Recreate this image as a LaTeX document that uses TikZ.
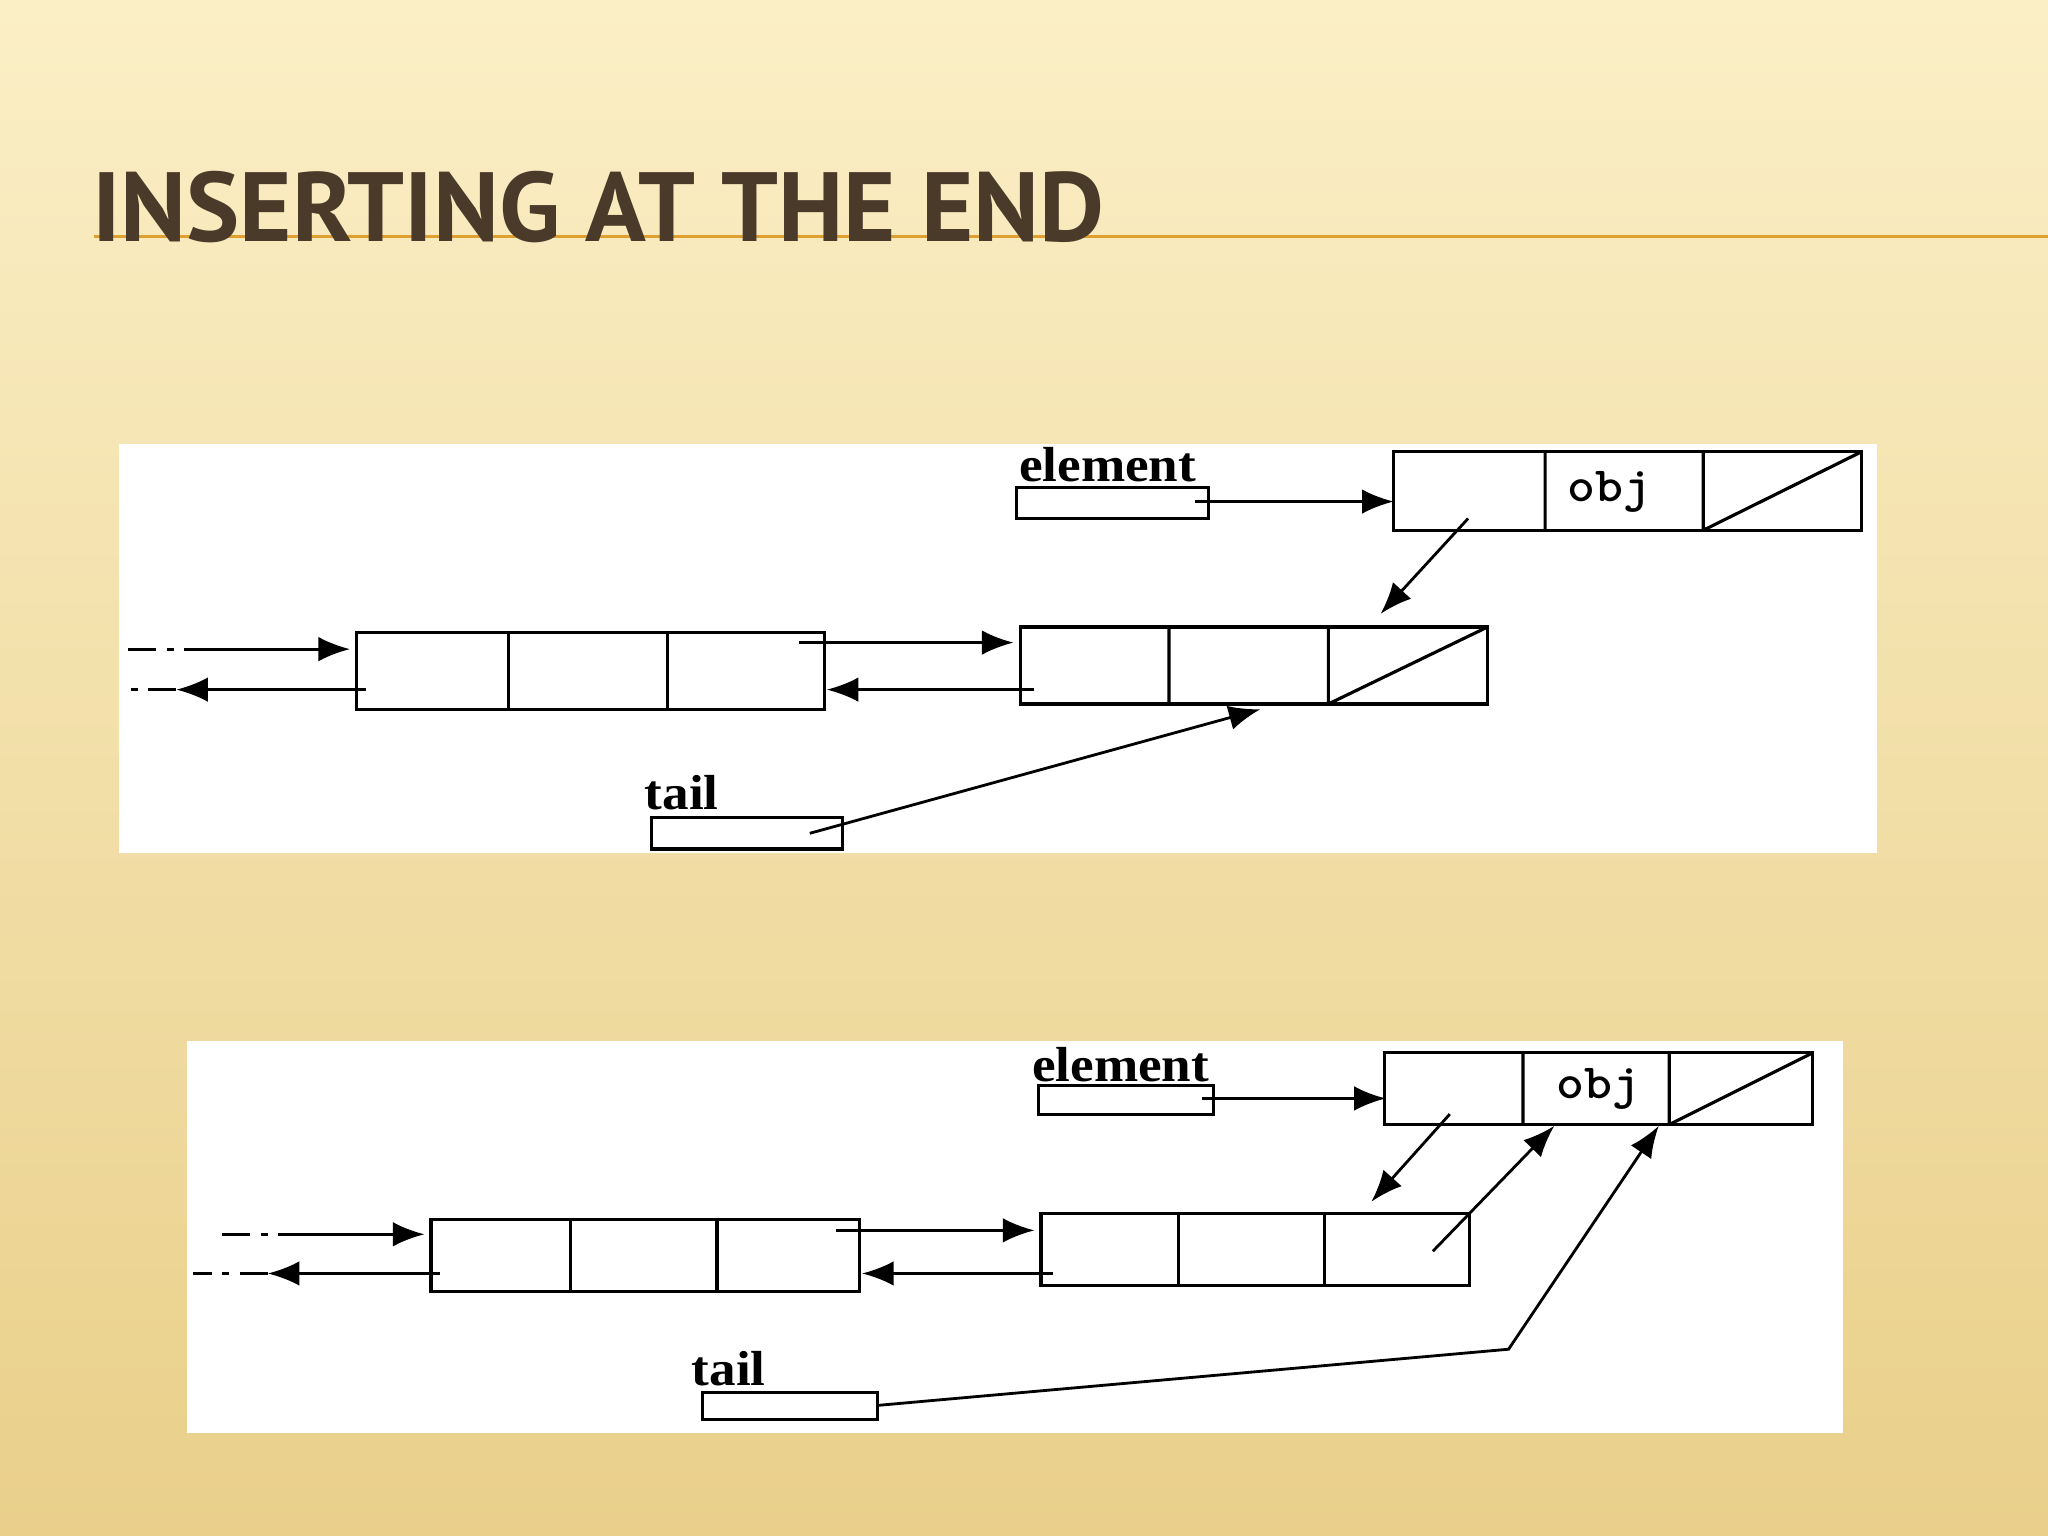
\documentclass[tikz,border=0pt]{standalone}
\usepackage{fontspec}
\setmainfont{Liberation Serif}
\newfontfamily\titlefont{PT Sans}
\usetikzlibrary{arrows.meta}
\definecolor{bgA}{HTML}{FBEFC6}
\definecolor{bgB}{HTML}{E9CF8A}
\definecolor{titlec}{HTML}{4A3A2A}
\definecolor{rulec}{HTML}{E0A030}
\tikzset{
 cell/.style={draw,line width=0.9pt},
 arr/.style={-{Latex[length=9pt,width=7pt]},line width=0.8pt},
 ln/.style={line width=0.8pt},
 dd/.style={line width=0.8pt,dash pattern=on 8pt off 3pt on 2pt off 3pt},
 lbl/.style={font=\bfseries\fontsize{14}{14}\selectfont,inner sep=0pt,xscale=1.08},
}
\begin{document}
\begin{tikzpicture}[x=0.01306cm,y=-0.01306cm]
\useasboundingbox (0,0) rectangle (1568,1176);
\shade[top color=bgA,bottom color=bgB] (0,0) rectangle (1568,1176);
\draw[rulec,line width=1pt] (72,181) -- (1568,181);
\node[anchor=base west,inner sep=0pt,text=titlec,font=\titlefont\bfseries\fontsize{28}{28}\selectfont,xscale=1.02] (title) at (70,185) {INSERTING AT THE END};
% ---------- diagram 1
\fill[white] (91,340) rectangle (1437,653);
\node[lbl] (el1) at (848,356) {element};
\draw[cell] (778,373) rectangle (925,397);
\coordinate (e1s) at (915,384); \coordinate (t1a) at (1067,384);
\draw[cell] (1067,346) rectangle (1425,406);
\draw[cell] (1183,346)--(1183,406) (1304,346)--(1304,406) (1304,406)--(1425,346);
\node[lbl,font=\bfseries\ttfamily\fontsize{14}{14}\selectfont] (obj1) at (1232,377) {obj};
\draw[arr] (e1s) -- (t1a);
\draw[cell] (273,484) rectangle (631,543);
\draw[cell] (389,484)--(389,543) (511,484)--(511,543);
\draw[cell] (781,480) rectangle (1139,539);
\draw[cell] (895,480)--(895,539) (1017,480)--(1017,539) (1017,539)--(1139,480);
\coordinate (a1) at (98,497); \coordinate (a2) at (155,497); \coordinate (a3) at (268,497);
\draw[dd] (a1)--(a2); \draw[arr] (a2)--(a3);
\coordinate (b1) at (280,528); \coordinate (b2) at (135,528); \coordinate (b3) at (98,528);
\draw[arr] (b1)--(b2); \draw[dd] (b2)--(b3);
\draw[arr] (612,492) coordinate (c1) -- (776,492) coordinate (c2);
\draw[arr] (792,528) coordinate (d1) -- (633,528) coordinate (d2);
\draw[arr] (1124,397) coordinate (f1) -- (1057,470) coordinate (f2);
\node[lbl] (tl1) at (522,607) {tail};
\draw[cell] (499,626) rectangle (645,650);
\draw[ln,-{Latex[length=9pt,width=7pt]}] (620,638) coordinate (g1) -- (965,543) coordinate (g2);
% ---------- diagram 2
\fill[white] (143,797) rectangle (1411,1097);
\node[lbl] (el2) at (858,815) {element};
\draw[cell] (795,831) rectangle (929,853);
\draw[arr] (920,841) coordinate (h1) -- (1061,841) coordinate (h2);
\draw[cell] (1060,806) rectangle (1388,861);
\draw[cell] (1166,806)--(1166,861) (1278,806)--(1278,861) (1278,861)--(1388,806);
\node[lbl,font=\bfseries\ttfamily\fontsize{14}{14}\selectfont] (obj2) at (1224,834) {obj};
\draw[cell] (330,934) rectangle (658,989);
\draw[cell] (437,934)--(437,989) (549,934)--(549,989);
\draw[cell] (797,929) rectangle (1125,984);
\draw[cell] (902,929)--(902,984) (1014,929)--(1014,984);
\coordinate (i1) at (170,945); \coordinate (i2) at (230,945); \coordinate (i3) at (325,945);
\draw[dd] (i1)--(i2); \draw[arr] (i2)--(i3);
\coordinate (j1) at (337,975); \coordinate (j2) at (205,975); \coordinate (j3) at (148,975);
\draw[arr] (j1)--(j2); \draw[dd] (j2)--(j3);
\draw[arr] (640,942) coordinate (k1) -- (792,942) coordinate (k2);
\draw[arr] (806,975) coordinate (l1) -- (660,975) coordinate (l2);
\draw[arr] (1110,853) coordinate (m1) -- (1050,920) coordinate (m2);
\draw[arr] (1097,958) coordinate (n1) -- (1190,862) coordinate (n2);
\node[lbl] (tl2) at (558,1048) {tail};
\draw[cell] (538,1066) rectangle (672,1087);
\draw[arr] (672,1076) coordinate (o1) -- (1155,1033) coordinate (o2) -- (1270,862) coordinate (o3);
\end{tikzpicture}
\end{document}
